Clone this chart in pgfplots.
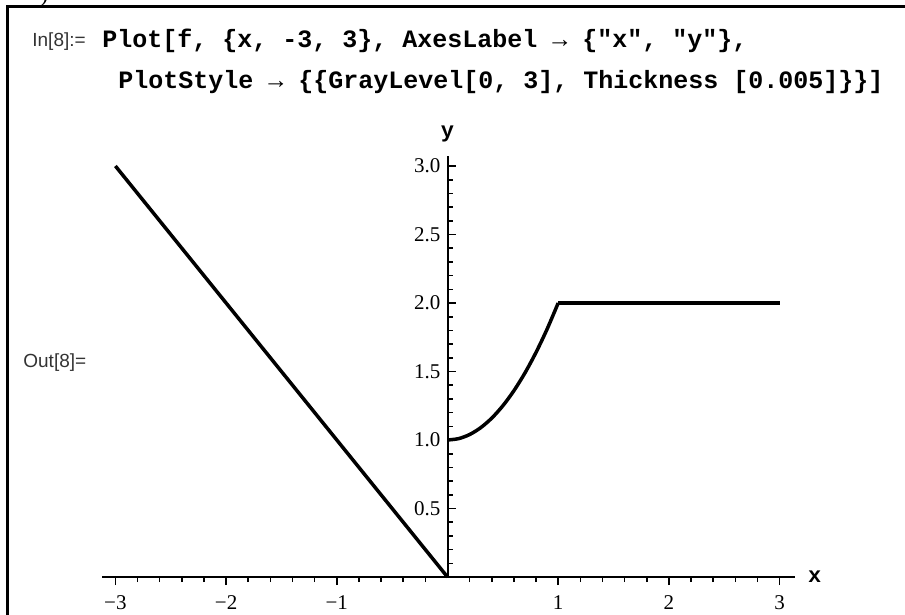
\documentclass[border=0pt]{standalone}
\usepackage{pgfplots}
\pgfplotsset{compat=1.18}
\usepackage{fontspec}
\setmainfont{Liberation Serif}
\newfontfamily\codefont{Liberation Mono}
\newfontfamily\labfont{Liberation Sans}

\begin{document}
\begin{tikzpicture}[x=0.5pt,y=-0.5pt]
\useasboundingbox (0,0) rectangle (905,615);
\clip (0,0) rectangle (905,615);
% notebook cell frame
\draw[line width=1.5pt] (7,620) -- (7,7) -- (910,7);
\node[anchor=base west,inner sep=0pt,font=\fontsize{12}{14}\selectfont] at (40,2) {)};
% input cell
\node[anchor=base west,inner sep=0pt,text=black!80,font=\labfont\fontsize{9.5}{11}\selectfont] at (32,47) {In[8]:=};
\node[anchor=base west,inner sep=0pt,font=\codefont\bfseries\fontsize{12.5}{15}\selectfont] at (102,48)
  {Plot[f, \{x, -3, 3\}, AxesLabel → \{"x", "y"\},};
\node[anchor=base west,inner sep=0pt,font=\codefont\bfseries\fontsize{12.5}{15}\selectfont] at (118,89)
  {PlotStyle → \{\{GrayLevel[0, 3], Thickness [0.005]\}\}]};
\node[anchor=base west,inner sep=0pt,text=black!80,font=\labfont\fontsize{9.5}{11}\selectfont] at (23,367) {Out[8]=};

\coordinate (O) at (447.5,577);
\begin{axis}[
  at={(O)}, anchor=origin,
  x=55.35pt, y=68.5pt,
  xmin=-3.12, xmax=3.14, ymin=0, ymax=3.07,
  axis lines=middle,
  axis line style={-,line width=1pt},
  xtick={-3,-2,-1,1,2,3},
  xticklabels={−3,−2,−1,1,2,3},
  ytick={0.5,1,1.5,2,2.5,3},
  yticklabels={0.5,1.0,1.5,2.0,2.5,3.0},
  minor xtick={-2.8,-2.6,-2.4,-2.2,-1.8,-1.6,-1.4,-1.2,-0.8,-0.6,-0.4,-0.2,
    0.2,0.4,0.6,0.8,1.2,1.4,1.6,1.8,2.2,2.4,2.6,2.8},
  minor ytick={0.1,0.2,0.3,0.4,0.6,0.7,0.8,0.9,1.1,1.2,1.3,1.4,1.6,1.7,1.8,1.9,
    2.1,2.2,2.3,2.4,2.6,2.7,2.8,2.9},
  xtick align=outside, ytick align=inside,
  major tick length=4pt, minor tick length=2.5pt,
  every tick/.style={black,line width=0.8pt},
  ticklabel style={font=\fontsize{10.5}{12}\selectfont},
  xticklabel style={yshift=-2pt},
  xlabel={x}, ylabel={y},
  xlabel style={at={(axis cs:3.14,0)},anchor=west,xshift=3pt,font=\codefont\bfseries\fontsize{11}{12}\selectfont},
  ylabel style={at={(axis cs:0,3.07)},anchor=south,yshift=3.5pt,font=\codefont\bfseries\fontsize{11}{12}\selectfont},
  clip=false,
]
\addplot[black,line width=1.75pt] coordinates {(-3,3) (0,0)};
\addplot[black,line width=1.75pt,smooth] coordinates {
(0,1) (0.1,1.01) (0.2,1.04) (0.3,1.09) (0.4,1.16) (0.5,1.25)
(0.6,1.36) (0.7,1.49) (0.8,1.64) (0.9,1.81) (1,2)};
\addplot[black,line width=1.75pt] coordinates {(1,2) (3,2)};
\end{axis}
\end{tikzpicture}
\end{document}
